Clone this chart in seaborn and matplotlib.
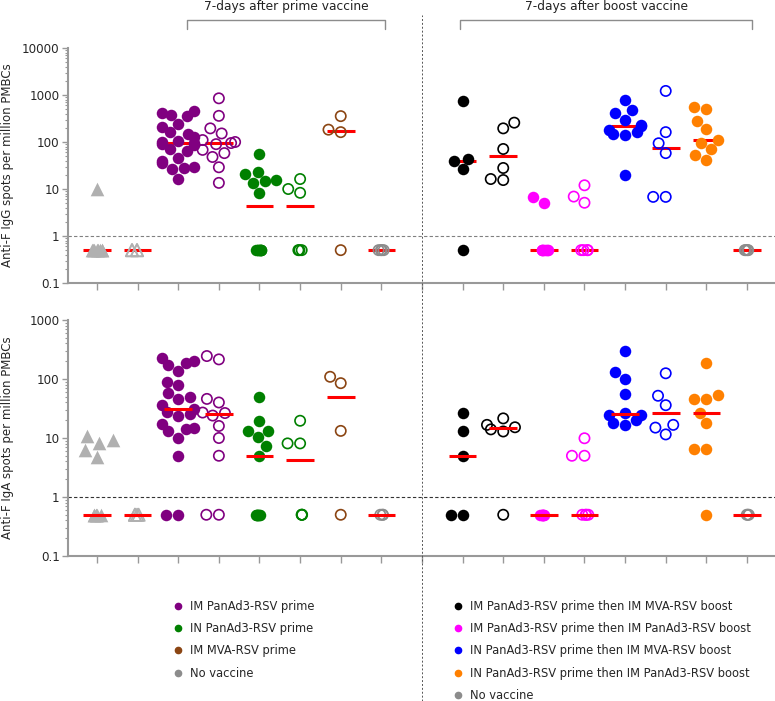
import numpy as np
import matplotlib
matplotlib.use("Agg")
import matplotlib.pyplot as plt
import matplotlib.transforms as mtransforms
from matplotlib.lines import Line2D
from matplotlib.ticker import FuncFormatter, LogLocator, NullFormatter
import seaborn as sns

# ---- data: spots per million PBMCs, one list per column (left to right) ----
# top panel: anti-F IgG
igg_base_filled = [10] + [0.5] * 8
igg_base_open = [0.5] * 4
igg_im_panad_filled = [450, 420, 380, 350, 240, 210, 160, 150, 125, 105, 100, 95,
                       90, 85, 70, 65, 45, 40, 35, 30, 28, 26, 16]
igg_im_panad_open = [850, 360, 195, 152, 110, 100, 95, 90, 68, 58, 48, 29, 13.5]
igg_in_panad_filled = [56, 23.5, 21, 15.5, 14.8, 13.5, 8.4] + [0.5] * 7
igg_in_panad_open = [16.3, 10, 8.3] + [0.5] * 3
igg_im_mva = [355, 183, 162, 0.5]
igg_none_prime = [0.5] * 4
igg_im_mva_boost_filled = [740, 44, 39, 26.5, 0.5]
igg_im_mva_boost_open = [258, 195, 71, 28, 16.3, 15.5]
igg_im_panad_boost_filled = [6.6, 5.1] + [0.5] * 6
igg_im_panad_boost_open = [12, 6.9, 5.1] + [0.5] * 4
igg_in_mva_boost_filled = [770, 480, 420, 300, 225, 215, 180, 160, 148, 141, 20]
igg_in_mva_boost_open = [1220, 162, 94, 58, 6.8, 6.8]
igg_in_panad_boost = [550, 515, 280, 193, 110, 97, 70, 53, 41.5]
igg_none_boost = [0.5] * 4

# bottom panel: anti-F IgA
iga_base_filled = [10.7, 9.25, 8.1, 6.3, 4.8] + [0.5] * 6
iga_base_open = [0.5] * 4
iga_im_panad_filled = [225, 200, 190, 175, 135, 90, 80, 57, 50, 45, 36, 31,
                       28, 26, 24, 17, 15, 14, 13, 10, 5, 0.5, 0.5]
iga_im_panad_open = [245, 215, 46, 40, 27, 26.5, 24, 16, 10, 5, 0.5, 0.5]
iga_in_panad_filled = [50, 19.6, 13.2, 13.2, 10.3, 7.3, 5.0] + [0.5] * 6
iga_in_panad_open = [19.6, 8.1, 8.1] + [0.5] * 3
iga_im_mva = [109, 85, 13.2, 0.5]
iga_none_prime = [0.5] * 3
iga_im_mva_boost_filled = [27, 12.9, 5.0, 0.5, 0.5]
iga_im_mva_boost_open = [21.5, 16.7, 15.2, 14, 12.9, 0.5]
iga_im_panad_boost_filled = [0.5] * 6
iga_im_panad_boost_open = [9.9, 5, 5] + [0.5] * 4
iga_in_mva_boost_filled = [298, 130, 99, 55, 26.5, 25, 24.5, 20, 18, 16.7]
iga_in_mva_boost_open = [125, 52, 36, 16.7, 15, 11.5]
iga_in_panad_boost = [185, 53, 46, 45.5, 26.5, 18.2, 6.6, 6.6, 0.5]
iga_none_boost = [0.5] * 3

igg_columns = [igg_base_filled, igg_base_open, igg_im_panad_filled, igg_im_panad_open,
               igg_in_panad_filled, igg_in_panad_open, igg_im_mva, igg_none_prime,
               igg_im_mva_boost_filled, igg_im_mva_boost_open, igg_im_panad_boost_filled,
               igg_im_panad_boost_open, igg_in_mva_boost_filled, igg_in_mva_boost_open,
               igg_in_panad_boost, igg_none_boost]
iga_columns = [iga_base_filled, iga_base_open, iga_im_panad_filled, iga_im_panad_open,
               iga_in_panad_filled, iga_in_panad_open, iga_im_mva, iga_none_prime,
               iga_im_mva_boost_filled, iga_im_mva_boost_open, iga_im_panad_boost_filled,
               iga_im_panad_boost_open, iga_in_mva_boost_filled, iga_in_mva_boost_open,
               iga_in_panad_boost, iga_none_boost]

# column styles
positions = [0, 1, 2, 3, 4, 5, 6, 7, 9, 10, 11, 12, 13, 14, 15, 16]
colors = ["#b0b0b0", "#b0b0b0", "#800080", "#800080", "#008000", "#008000", "#8b4513", "#8c8c8c",
          "#000000", "#000000", "#ff00ff", "#ff00ff", "#0000ff", "#0000ff", "#ff8000", "#8c8c8c"]
markers = ["^", "^"] + ["o"] * 14
filled = [True, False, True, False, True, False, False, False,
          True, False, True, False, True, False, True, False]

legend_left = ["IM PanAd3-RSV prime", "IN PanAd3-RSV prime", "IM MVA-RSV prime", "No vaccine"]
legend_left_colors = ["#800080", "#008000", "#8b4513", "#8c8c8c"]
legend_right = ["IM PanAd3-RSV prime then IM MVA-RSV boost",
                "IM PanAd3-RSV prime then IM PanAd3-RSV boost",
                "IN PanAd3-RSV prime then IM MVA-RSV boost",
                "IN PanAd3-RSV prime then IM PanAd3-RSV boost",
                "No vaccine"]
legend_right_colors = ["#000000", "#ff00ff", "#0000ff", "#ff8000", "#8c8c8c"]

sns.set_style("ticks")
plt.rcParams["font.family"] = ["DejaVu Sans"]
np.random.seed(3)

fig = plt.figure(figsize=(7.75, 7.01), dpi=100)
ax_g = fig.add_axes([68 / 775, 1 - 283 / 701, 1 - 68 / 775, 235 / 701])
ax_a = fig.add_axes([68 / 775, 1 - 556 / 701, 1 - 68 / 775, 236 / 701])

XLIM = (-0.714, 16.69)


def setup_axes(ax, ymax, dash_color):
    ax.set_yscale("log")
    ax.set_ylim(0.1, ymax)
    ax.set_xlim(*XLIM)
    ax.yaxis.set_major_locator(LogLocator(base=10))
    ax.yaxis.set_minor_locator(LogLocator(base=10, subs=np.arange(2, 10)))
    ax.yaxis.set_major_formatter(FuncFormatter(lambda v, _: f"{v:g}"))
    ax.yaxis.set_minor_formatter(NullFormatter())
    ax.set_xticks(range(17))
    ax.set_xticklabels([])
    for s in ["top", "right"]:
        ax.spines[s].set_visible(False)
    for s in ["left", "bottom"]:
        ax.spines[s].set_color("#999999")
        ax.spines[s].set_linewidth(1.5)
    ax.tick_params(axis="y", which="major", length=4, width=1, color="#999999",
                   labelsize=8.6, pad=2)
    ax.tick_params(axis="y", which="minor", length=2, width=0.8, color="#999999")
    ax.tick_params(axis="x", length=5, width=1, color="#999999")
    ax.axhline(1, color=dash_color, lw=0.8, ls=(0, (3, 2)), zorder=1)


def draw_panel(ax, columns, line_z):
    for pos, vals, col, mk, fill in zip(positions, columns, colors, markers, filled):
        vals = np.asarray(vals, dtype=float)
        hi = vals[vals > 0.5]
        lo = vals[vals <= 0.5]
        kw = dict(color=col, marker=mk, ax=ax, native_scale=True, orient="x", zorder=3)
        bump = 1.5 if mk == "^" else 0
        if fill:
            kw.update(size=8.3 + bump, linewidth=0)
        else:
            kw.update(size=7.4 + bump, facecolor="none", edgecolor=col, linewidth=1.2)
        jit = 0.15 if mk == "^" else 0.1
        if len(hi):
            sns.swarmplot(x=np.full(len(hi), pos), y=hi, **kw)
        if len(lo) > 2:
            sns.stripplot(x=np.full(len(lo), pos), y=lo, jitter=jit, **kw)
        elif len(lo):
            sns.swarmplot(x=np.full(len(lo), pos), y=lo, **kw)
        med = np.median(vals)
        ax.hlines(med, pos - 0.34, pos + 0.34, color="red", lw=2.2, zorder=line_z)


setup_axes(ax_g, 10000, "#808080")
setup_axes(ax_a, 1000, "#333333")
draw_panel(ax_g, igg_columns, 2)
draw_panel(ax_a, iga_columns, 4)
for ax, lab in [(ax_g, "Anti-F IgG spots per million PMBCs"),
                (ax_a, "Anti-F IgA spots per million PMBCs")]:
    ax.set_xlim(*XLIM)
    ax.set_xlabel("")
    ax.set_ylabel(lab, fontsize=8.5, va="center")
    ax.yaxis.set_label_coords(-60 / 707, 0.5)

# brackets over the two time points
btrans = mtransforms.blended_transform_factory(ax_g.transData, ax_g.transAxes)
for x0, x1, txt in [(2.21, 7.09, "7-days after prime vaccine"),
                    (8.94, 16.12, "7-days after boost vaccine")]:
    ax_g.plot([x0, x0, x1, x1], [1.081, 1.119, 1.119, 1.081], transform=btrans,
              clip_on=False, color="#8c8c8c", lw=1)
    ax_g.text((x0 + x1) / 2, 1.178, txt, transform=btrans, ha="center", va="center",
              fontsize=8.8, color="#222222")

# vertical separator between prime and boost
vtrans = mtransforms.blended_transform_factory(ax_g.transData, fig.transFigure)
fig.add_artist(Line2D([8, 8], [0, 1 - 15 / 701], transform=vtrans, color="#555555",
                      lw=0.7, ls=(0, (2, 2))))


# legends
def dot_handles(cols):
    return [Line2D([0], [0], marker="o", ls="", markerfacecolor=c, markeredgecolor=c,
                   markersize=4.5) for c in cols]


for labels, cols, x in [(legend_left, legend_left_colors, 0.2237),
                        (legend_right, legend_right_colors, 0.585)]:
    fig.legend(dot_handles(cols), labels, loc="upper left", bbox_to_anchor=(x, 1 - 600 / 701),
               frameon=False, fontsize=8.3, handletextpad=0.65, handlelength=0.8,
               labelspacing=0.8, borderaxespad=0, borderpad=0)

fig.savefig("out.png", dpi=100)
